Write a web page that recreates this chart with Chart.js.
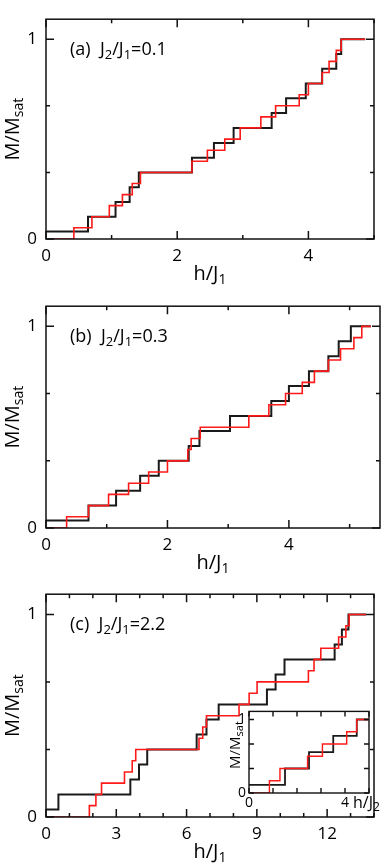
<!DOCTYPE html>
<html>
<head>
<meta charset="utf-8">
<script src="https://cdn.jsdelivr.net/npm/chart.js@4.4.1/dist/chart.umd.min.js"></script>
<style>
  html, body { margin: 0; padding: 0; background: #fff; }
  #wrap { position: relative; width: 381px; height: 867px; overflow: hidden; }
  canvas { position: absolute; left: 0; }
</style>
</head>
<body>
<div id="wrap">
  <canvas id="panelA" width="381" height="289" style="top:0px"></canvas>
  <canvas id="panelB" width="381" height="291" style="top:287px"></canvas>
  <canvas id="panelC" width="381" height="292" style="top:575px"></canvas>
  <canvas id="inset" width="156" height="115" style="top:700px; left:225px"></canvas>
</div>
<script>
const FONT = '"Open Sans", "DejaVu Sans", sans-serif';
Chart.defaults.font.family = FONT;
Chart.defaults.color = '#000';

// (a) J2/J1=0.1  -- h/J1 where each step starts, and M/Msat after the step
const aBlackH = [0, 0.64, 1.06, 1.275, 1.415, 2.225, 2.56, 2.86, 3.44, 3.66, 3.96, 4.21, 4.425, 4.5, 4.865];
const aBlackM = [0.037, 0.111, 0.185, 0.259, 0.333, 0.407, 0.481, 0.556, 0.630, 0.704, 0.778, 0.852, 0.926, 1, 1];
const aRedH = [0, 0.425, 0.70, 0.965, 1.165, 1.315, 1.44, 2.225, 2.46, 2.725, 2.96, 3.275, 3.5, 3.86, 4.0, 4.21, 4.315, 4.425, 4.5, 4.865];
const aRedM = [0, 0.056, 0.111, 0.167, 0.222, 0.278, 0.333, 0.389, 0.444, 0.5, 0.556, 0.611, 0.667, 0.722, 0.778, 0.833, 0.889, 0.944, 1, 1];

// (b) J2/J1=0.3
const bBlackH = [0, 0.70, 1.154, 1.55, 1.857, 2.35, 2.527, 3.03, 3.71, 4.0, 4.33, 4.65, 4.82, 5.02, 5.35];
const bBlackM = [0.037, 0.111, 0.185, 0.259, 0.333, 0.407, 0.481, 0.556, 0.630, 0.704, 0.778, 0.852, 0.926, 1, 1];
const bRedH = [0, 0.34, 0.70, 1.03, 1.36, 1.69, 2.0, 2.335, 2.39, 2.54, 3.34, 3.67, 3.945, 4.22, 4.42, 4.65, 4.85, 5.07, 5.2, 5.35];
const bRedM = [0, 0.056, 0.111, 0.167, 0.222, 0.278, 0.333, 0.389, 0.444, 0.5, 0.556, 0.611, 0.667, 0.722, 0.778, 0.833, 0.889, 0.944, 1, 1];

// (c) J2/J1=2.2
const cBlackH = [0, 0.53, 3.6, 3.97, 4.32, 6.43, 6.85, 7.37, 9.43, 9.8, 10.18, 12.32, 12.63, 12.91, 13.66];
const cBlackM = [0.037, 0.111, 0.185, 0.259, 0.333, 0.407, 0.481, 0.556, 0.630, 0.704, 0.778, 0.852, 0.926, 1, 1];
const cRedH = [0, 1.85, 2.13, 2.37, 3.35, 3.68, 3.83, 6.53, 6.69, 6.85, 8.24, 8.67, 9.01, 11.2, 11.44, 11.73, 12.49, 12.8, 12.94, 13.66];
const cRedM = [0, 0.056, 0.111, 0.167, 0.222, 0.278, 0.333, 0.389, 0.444, 0.5, 0.556, 0.611, 0.667, 0.722, 0.778, 0.833, 0.889, 0.944, 1, 1];

// inset of (c), h/J2
const insBlackH = [0, 1.5, 2.5, 3.51, 4.49, 4.97];
const insBlackM = [0.111, 0.333, 0.556, 0.778, 1, 1];
const insRedH = [0, 0.85, 1.29, 2.44, 3.06, 4.07, 4.49, 4.97];
const insRedM = [0, 0.167, 0.333, 0.5, 0.667, 0.833, 1, 1];

// ticks and labels
const yTicks = [0, 0.333, 0.667, 1];
const yLabels = [0, 1];
const aXTicks = [0, 1, 2, 3, 4, 5];
const aXLabels = [0, 2, 4];
const bXTicks = [0, 1, 2, 3, 4, 5];
const bXLabels = [0, 2, 4];
const cXTicks = [0, 1, 2, 3, 4, 5, 6, 7, 8, 9, 10, 11, 12, 13, 14];
const cXLabels = [0, 3, 6, 9, 12];
const insXTicks = [0, 1, 2, 3, 4, 5];
const insXLabels = [0, 4];
const panelNames = ['(a)', '(b)', '(c)'];
const ratios = ['0.1', '0.3', '2.2'];

function pts(hs, ms) {
  return hs.map((h, i) => ({ x: h, y: ms[i] }));
}

// text with subscripts: parts = [[text, isSub], ...]
function escribir(ctx, parts, x, y, size, align) {
  const big = size + 'px ' + FONT;
  const small = Math.round(size * 0.72) + 'px ' + FONT;
  ctx.textAlign = 'left';
  ctx.textBaseline = 'alphabetic';
  let w = 0;
  parts.forEach(p => { ctx.font = p[1] ? small : big; w += ctx.measureText(p[0]).width; });
  let cx = align === 'center' ? x - w / 2 : x;
  parts.forEach(p => {
    ctx.font = p[1] ? small : big;
    ctx.fillText(p[0], cx, p[1] ? y + size * 0.2 : y);
    cx += ctx.measureText(p[0]).width;
  });
}

function marco(cfg) {
  return {
    id: 'marco',
    beforeDraw(chart) {
      if (!cfg.fondo) return;
      const a = chart.chartArea, ctx = chart.ctx;
      ctx.save();
      ctx.fillStyle = '#fff';
      ctx.fillRect(a.left, a.top, a.right - a.left, a.bottom - a.top);
      ctx.restore();
    },
    afterDraw(chart) {
      const ctx = chart.ctx, a = chart.chartArea;
      const xs = chart.scales.x, ys = chart.scales.y;
      ctx.save();
      ctx.strokeStyle = '#111';
      ctx.lineWidth = cfg.grosor;
      ctx.beginPath();
      xs.ticks.forEach(t => {
        const p = xs.getPixelForValue(t.value);
        const l = cfg.xLabels.includes(t.value) ? cfg.mayor : cfg.menor;
        ctx.moveTo(p, a.bottom); ctx.lineTo(p, a.bottom - l);
        ctx.moveTo(p, a.top); ctx.lineTo(p, a.top + l);
      });
      ys.ticks.forEach(t => {
        const p = ys.getPixelForValue(t.value);
        const l = yLabels.includes(t.value) ? cfg.mayor : cfg.menor;
        ctx.moveTo(a.left, p); ctx.lineTo(a.left + l, p);
        ctx.moveTo(a.right, p); ctx.lineTo(a.right - l, p);
      });
      ctx.stroke();
      ctx.strokeRect(a.left, a.top, a.right - a.left, a.bottom - a.top);
      ctx.fillStyle = '#000';
      cfg.textos(ctx, a);
      ctx.restore();
    }
  };
}

function graficar(id, d) {
  new Chart(document.getElementById(id).getContext('2d'), {
    type: 'line',
    data: {
      datasets: [
        { data: pts(d.redH, d.redM), borderColor: '#ff1a1a', borderWidth: d.ancho * 0.8, stepped: true, pointRadius: 0, fill: false },
        { data: pts(d.blackH, d.blackM), borderColor: '#1a1a1a', borderWidth: d.ancho, stepped: true, pointRadius: 0, fill: false }
      ]
    },
    options: {
      responsive: false,
      animation: false,
      devicePixelRatio: 1,
      events: [],
      layout: { padding: { top: d.padTop, right: d.padRight, left: 0, bottom: 0 } },
      plugins: { legend: { display: false }, tooltip: { enabled: false } },
      scales: {
        x: {
          type: 'linear', min: 0, max: d.xMax,
          grid: { display: false, drawTicks: false },
          border: { display: false },
          ticks: {
            font: { size: d.tickSize }, color: '#000', padding: d.xPad, maxRotation: 0, autoSkip: false,
            callback: v => d.xLabels.includes(v) ? String(v) : ''
          },
          afterBuildTicks: s => { s.ticks = d.xTicks.map(v => ({ value: v })); },
          afterFit: s => { s.height = d.xAxisH; }
        },
        y: {
          type: 'linear', min: 0, max: d.yMax,
          grid: { display: false, drawTicks: false },
          border: { display: false },
          ticks: {
            font: { size: d.tickSize }, color: '#000', padding: d.yPad, autoSkip: false,
            callback: v => yLabels.includes(v) ? String(v) : ''
          },
          afterBuildTicks: s => { s.ticks = yTicks.map(v => ({ value: v })); },
          afterFit: s => { s.width = d.yAxisW; }
        }
      }
    },
    plugins: [marco({ fondo: d.fondo, grosor: d.grosor, mayor: d.mayor, menor: d.menor, xLabels: d.xLabels, textos: d.textos })]
  });
}

function textosPanel(i) {
  return (ctx, a) => {
    escribir(ctx, [['h/J', 0], ['1', 1]], (a.left + a.right) / 2, a.bottom + 41, 20, 'center');
    ctx.save();
    ctx.translate(19, (a.top + a.bottom) / 2);
    ctx.rotate(-Math.PI / 2);
    escribir(ctx, [['M/M', 0], ['sat', 1]], 0, 0, 20, 'center');
    ctx.restore();
    escribir(ctx, [[panelNames[i] + '  J', 0], ['2', 1], ['/J', 0], ['1', 1], ['=' + ratios[i], 0]], 70, a.top + 36, 18, 'left');
  };
}

const comun = { ancho: 2, tickSize: 17, xPad: 7, yPad: 9, xAxisH: 50, yAxisW: 46, padRight: 1, yMax: 1.1, grosor: 1.5, mayor: 8, menor: 4, fondo: false };

graficar('panelA', Object.assign({}, comun, {
  blackH: aBlackH, blackM: aBlackM, redH: aRedH, redM: aRedM,
  xMax: 5, xTicks: aXTicks, xLabels: aXLabels, padTop: 1, textos: textosPanel(0)
}));
graficar('panelB', Object.assign({}, comun, {
  blackH: bBlackH, blackM: bBlackM, redH: bRedH, redM: bRedM,
  xMax: 5.5, xTicks: bXTicks, xLabels: bXLabels, padTop: 2, textos: textosPanel(1)
}));
graficar('panelC', Object.assign({}, comun, {
  blackH: cBlackH, blackM: cBlackM, redH: cRedH, redM: cRedM,
  xMax: 14, xTicks: cXTicks, xLabels: cXLabels, padTop: 2, textos: textosPanel(2)
}));

graficar('inset', {
  blackH: insBlackH, blackM: insBlackM, redH: insRedH, redM: insRedM,
  ancho: 1.8, tickSize: 14, xPad: 2, yPad: 3, xAxisH: 22, yAxisW: 24, padTop: 8, padRight: 12,
  xMax: 5, yMax: 1.11, xTicks: insXTicks, xLabels: insXLabels,
  grosor: 1.4, mayor: 5, menor: 5, fondo: true,
  textos: (ctx, a) => {
    escribir(ctx, [['h/J', 0], ['2', 1]], 128, 108, 16, 'left');
    ctx.save();
    ctx.translate(15, 45);
    ctx.rotate(-Math.PI / 2);
    escribir(ctx, [['M/M', 0], ['sat', 1]], 0, 0, 15, 'center');
    ctx.restore();
  }
});
</script>
</body>
</html>
